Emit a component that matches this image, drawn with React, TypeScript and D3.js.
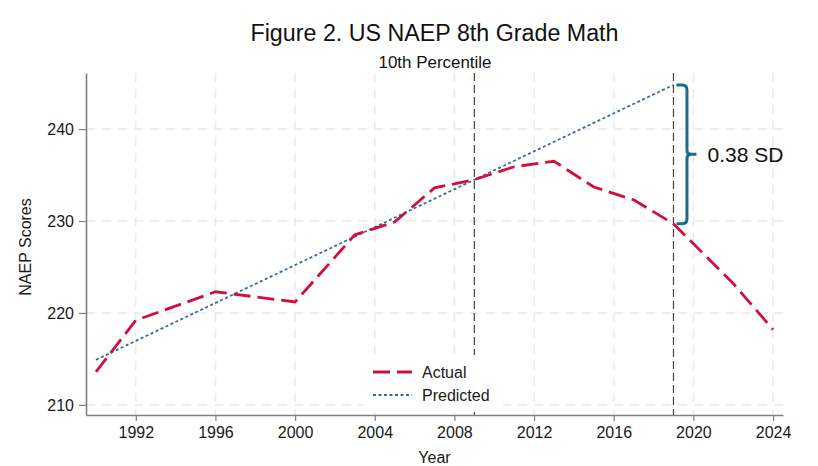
import React, { useEffect, useRef } from 'react';
import * as d3 from 'd3';

// NAEP 8th grade math, 10th percentile
const years = [1990, 1992, 1996, 2000, 2003, 2005, 2007, 2009, 2011, 2013, 2015, 2017, 2019, 2022, 2024];
const actual = [213.6, 219.2, 222.3, 221.2, 228.5, 229.9, 233.6, 234.5, 235.9, 236.5, 233.7, 232.3, 229.7, 223.2, 218.2];

// linear trend, 1990 to 2019
const predYears = [1990, 2019];
const predicted = [214.9, 244.8];

const refYears = [2009, 2019];
const xTicks = [1992, 1996, 2000, 2004, 2008, 2012, 2016, 2020, 2024];
const yTicks = [210, 220, 230, 240];
const gapLabel = '0.38 SD';

const FONT = '"Liberation Sans", Arial, sans-serif';
const RED = '#d0103a';
const BLUE = '#3b6b98';
const BRACE = '#1c6b8d';
const GRID = '#ebebeb';
const AXIS = '#808080';

export default function App() {
  const svgRef = useRef<SVGSVGElement>(null);

  useEffect(() => {
    if (!svgRef.current) return;
    const svg = d3.select(svgRef.current);
    svg.selectAll('*').remove();

    const x = d3.scaleLinear().domain([1989.5, 2024.5]).range([86, 783]);
    const y = d3.scaleLinear().domain([208.9, 246.1]).range([415, 73]);
    const [x0, x1] = x.range();
    const [y0, y1] = y.range();

    // gridlines
    const grid = svg.append('g');
    grid.selectAll('line.gx')
      .data(xTicks)
      .enter()
      .append('line')
      .attr('x1', d => x(d)).attr('x2', d => x(d))
      .attr('y1', y1).attr('y2', y0)
      .attr('stroke', GRID).attr('stroke-width', 1.5)
      .attr('stroke-dasharray', '9,7');
    grid.selectAll('line.gy')
      .data(yTicks)
      .enter()
      .append('line')
      .attr('x1', x0).attr('x2', x1)
      .attr('y1', d => y(d)).attr('y2', d => y(d))
      .attr('stroke', GRID).attr('stroke-width', 1.5)
      .attr('stroke-dasharray', '9,7');

    // reference lines
    svg.selectAll('line.ref')
      .data(refYears)
      .enter()
      .append('line')
      .attr('x1', d => x(d)).attr('x2', d => x(d))
      .attr('y1', y1).attr('y2', y0)
      .attr('stroke', '#444').attr('stroke-width', 1.2)
      .attr('stroke-dasharray', '8,4');

    // predicted
    const predLine = d3.line<number>()
      .x((_, i) => x(predYears[i]))
      .y(d => y(d));
    svg.append('path')
      .attr('d', predLine(predicted))
      .attr('fill', 'none')
      .attr('stroke', BLUE).attr('stroke-width', 1.8)
      .attr('stroke-dasharray', '3,2.5');

    // actual
    const actLine = d3.line<number>()
      .x((_, i) => x(years[i]))
      .y(d => y(d));
    svg.append('path')
      .attr('d', actLine(actual))
      .attr('fill', 'none')
      .attr('stroke', RED).attr('stroke-width', 2.8)
      .attr('stroke-dasharray', '17,7');

    // axes
    const yAxis = svg.append('g')
      .attr('transform', `translate(${x0},0)`)
      .call(d3.axisLeft(y).tickValues(yTicks).tickSize(7).tickSizeOuter(0).tickPadding(5));
    const xAxis = svg.append('g')
      .attr('transform', `translate(0,${y0})`)
      .call(d3.axisBottom(x).tickValues(xTicks).tickFormat(d3.format('d')).tickSize(6).tickSizeOuter(0).tickPadding(6));
    [yAxis, xAxis].forEach(g => {
      g.select('.domain').attr('stroke', AXIS).attr('stroke-width', 1.6);
      g.selectAll('.tick line').attr('stroke', AXIS).attr('stroke-width', 1.2);
      g.selectAll('.tick text')
        .attr('font-family', FONT).attr('font-size', 16).attr('fill', '#1a1a1a');
    });

    // legend
    const lg = svg.append('g');
    lg.append('rect')
      .attr('x', 365).attr('y', 355).attr('width', 138).attr('height', 57)
      .attr('fill', '#fff');
    const items = [
      { label: 'Actual', color: RED, width: 2.8, dash: '17,7' },
      { label: 'Predicted', color: BLUE, width: 1.8, dash: '3,2.5' }
    ];
    items.forEach((it, i) => {
      const cy = 372 + i * 23;
      lg.append('line')
        .attr('x1', 373).attr('x2', 412).attr('y1', cy).attr('y2', cy)
        .attr('stroke', it.color).attr('stroke-width', it.width)
        .attr('stroke-dasharray', it.dash);
      lg.append('text')
        .attr('x', 422).attr('y', cy)
        .attr('dy', '0.35em')
        .attr('font-family', FONT).attr('font-size', 16).attr('fill', '#1a1a1a')
        .text(it.label);
    });

    // brace between predicted and actual in 2019
    const bx = x(2019);
    const top = y(predicted[1]);
    const bot = y(actual[years.indexOf(2019)]);
    const mid = (top + bot) / 2;
    const p = d3.path();
    p.moveTo(bx + 3, top);
    p.lineTo(bx + 9, top);
    p.quadraticCurveTo(bx + 13.5, top, bx + 13.5, top + 5);
    p.lineTo(bx + 13.5, mid - 4);
    p.quadraticCurveTo(bx + 13.5, mid, bx + 18, mid);
    p.lineTo(bx + 23, mid);
    p.moveTo(bx + 18, mid);
    p.quadraticCurveTo(bx + 13.5, mid, bx + 13.5, mid + 4);
    p.lineTo(bx + 13.5, bot - 5);
    p.quadraticCurveTo(bx + 13.5, bot, bx + 9, bot);
    p.lineTo(bx + 3, bot);
    svg.append('path')
      .attr('d', p.toString())
      .attr('fill', 'none')
      .attr('stroke', BRACE).attr('stroke-width', 3)
      .attr('stroke-linejoin', 'round');
    svg.append('text')
      .attr('x', bx + 34).attr('y', mid + 8)
      .attr('font-family', FONT).attr('font-size', 21).attr('fill', '#111')
      .text(gapLabel);

    // titles
    const cx = (x0 + x1) / 2;
    svg.append('text')
      .attr('x', cx - 184).attr('y', 41)
      .attr('textLength', 368).attr('lengthAdjust', 'spacingAndGlyphs')
      .attr('font-family', FONT).attr('font-size', 23).attr('fill', '#111')
      .text('Figure 2. US NAEP 8th Grade Math');
    svg.append('text')
      .attr('x', cx - 56).attr('y', 68)
      .attr('textLength', 113).attr('lengthAdjust', 'spacingAndGlyphs')
      .attr('font-family', FONT).attr('font-size', 16).attr('fill', '#111')
      .text('10th Percentile');

    svg.append('text')
      .attr('x', cx).attr('y', 463)
      .attr('text-anchor', 'middle')
      .attr('font-family', FONT).attr('font-size', 16).attr('fill', '#1a1a1a')
      .text('Year');
    svg.append('text')
      .attr('transform', `translate(31,247) rotate(-90)`)
      .attr('text-anchor', 'middle')
      .attr('font-family', FONT).attr('font-size', 16).attr('fill', '#1a1a1a')
      .text('NAEP Scores');
  }, []);

  return (
    <div style={{ position: 'fixed', left: 0, top: 0 }}>
      <svg ref={svgRef} width={818} height={466} style={{ display: 'block', background: '#fff' }} />
    </div>
  );
}
